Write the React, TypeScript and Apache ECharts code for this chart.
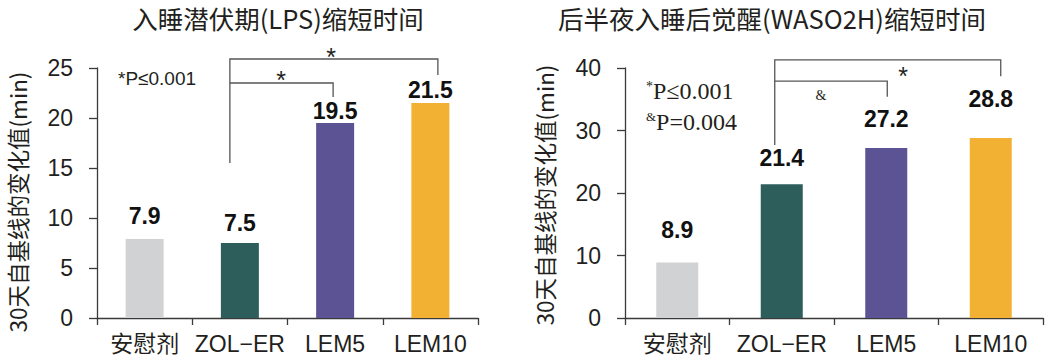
import React, { useEffect, useRef } from "react";
import * as echarts from "echarts";

const categories = ["安慰剂", "ZOL−ER", "LEM5", "LEM10"];
const lpsValues = [7.9, 7.5, 19.5, 21.5];
const wasoValues = [8.9, 21.4, 27.2, 28.8];
const lpsAxis = { min: 0, max: 25, interval: 5 };
const wasoAxis = { min: 0, max: 40, interval: 10 };
const titles = ["入睡潜伏期(LPS)缩短时间", "后半夜入睡后觉醒(WASO2H)缩短时间"];
const yName = "30天自基线的变化值(min)";

const barColors = ["#d1d2d4", "#2d5e5c", "#5b5394", "#f3b134"];

export default function App() {
  const ref = useRef<HTMLDivElement>(null);

  useEffect(() => {
    document.body.style.margin = "0";
    const chart = echarts.init(ref.current!, null, { renderer: "svg" });
    const font = '"Liberation Sans", "Noto Sans CJK SC", sans-serif';
    const cjk = '"Noto Sans CJK SC", "Liberation Sans", sans-serif';
    const serif = '"Liberation Serif", serif';
    const axisColor = "#3a3a3a";
    const ink = "#231f20";

    const yAxis = (idx: number, cfg: { min: number; max: number; interval: number }) => ({
      type: "value",
      gridIndex: idx,
      min: cfg.min,
      max: cfg.max,
      interval: cfg.interval,
      splitLine: { show: false },
      axisLine: { show: true, lineStyle: { color: axisColor, width: 1.3 } },
      axisTick: { show: true, length: 8, lineStyle: { color: axisColor, width: 1.3 } },
      axisLabel: { fontSize: 23, margin: 24, color: ink, fontFamily: font },
    });
    const xAxis = (idx: number) => ({
      type: "category",
      gridIndex: idx,
      data: categories,
      axisLine: { show: true, lineStyle: { color: axisColor, width: 1.3 } },
      axisTick: { show: true, length: 7, lineStyle: { color: axisColor, width: 1.3 } },
      axisLabel: { fontSize: 23, margin: 14, color: ink, fontFamily: font, interval: 0 },
    });
    const series = (idx: number, values: number[], gaps: number[], width: number) => ({
      type: "bar",
      xAxisIndex: idx,
      yAxisIndex: idx,
      barWidth: width,
      data: values.map((v, i) => ({
        value: v,
        itemStyle: { color: barColors[i] },
        label: { distance: gaps[i] },
      })),
      label: {
        show: true,
        position: "top",
        fontSize: 23,
        fontWeight: "bold",
        color: "#111",
        fontFamily: font,
      },
    });

    chart.setOption({
      animation: false,
      grid: [
        { left: 97, top: 68, width: 381, height: 250 },
        { left: 625, top: 68, width: 418, height: 250 },
      ],
      xAxis: [xAxis(0), xAxis(1)],
      yAxis: [yAxis(0, lpsAxis), yAxis(1, wasoAxis)],
      series: [
        series(0, lpsValues, [12, 9, 1, 2], 38),
        series(1, wasoValues, [21, 15, 18, 28], 42),
      ],
    });

    const px = (idx: number, cat: number, val: number, dx = 0): number[] => {
      const p = chart.convertToPixel({ xAxisIndex: idx, yAxisIndex: idx }, [cat, val]) as number[];
      return [p[0] + dx, p[1]];
    };
    const lineStyle = { stroke: "#555", lineWidth: 1.3, fill: null };
    const bracket = (pts: number[][]) => ({ type: "polyline", shape: { points: pts }, style: lineStyle, silent: true });

    // left chart brackets
    const lA = px(0, 1, 15.5, -10);
    const lTopL = px(0, 1, 25.9, -10);
    const lTopR = px(0, 3, 25.9, 7.5);
    const lTopRD = px(0, 3, 24.3, 7.5);
    const lMidL = px(0, 1, 23.5, -10);
    const lMidR = px(0, 2, 23.5, -2);
    const lMidRD = px(0, 2, 22.1, -2);

    // right chart brackets
    const rA = px(1, 1, 27.7, -7);
    const rTopL = px(1, 1, 41.3, -7);
    const rTopR = px(1, 3, 41.3, 10);
    const rTopRD = px(1, 3, 38.7, 10);
    const rMidL = px(1, 1, 37.9, -7);
    const rMidR = px(1, 2, 37.9, 1);
    const rMidRD = px(1, 2, 35.4, 1);

    const star = (x: number, y: number, size = 25) => ({
      type: "text",
      x,
      y,
      style: { text: "*", fontSize: size, fontFamily: font, fill: ink, align: "center", verticalAlign: "middle" },
      silent: true,
    });

    chart.setOption({
      graphic: [
        {
          type: "text",
          x: 278,
          y: 17,
          style: { text: titles[0], fontSize: 25.5, lineHeight: 26, fontFamily: cjk, fill: ink, align: "center", verticalAlign: "middle" },
        },
        {
          type: "text",
          x: 772,
          y: 17,
          style: { text: titles[1], fontSize: 25.5, lineHeight: 26, fontFamily: cjk, fill: ink, align: "center", verticalAlign: "middle" },
        },
        {
          type: "text",
          x: 17,
          y: 202,
          rotation: Math.PI / 2,
          style: { text: yName, fontSize: 22.5, lineHeight: 23, fontFamily: cjk, fill: ink, align: "center", verticalAlign: "middle" },
        },
        {
          type: "text",
          x: 544,
          y: 195,
          rotation: Math.PI / 2,
          style: { text: yName, fontSize: 22.5, lineHeight: 23, fontFamily: cjk, fill: ink, align: "center", verticalAlign: "middle" },
        },
        bracket([lA, lTopL, lTopR, lTopRD]),
        bracket([lMidL, lMidR, lMidRD]),
        bracket([rA, rTopL, rTopR, rTopRD]),
        bracket([rMidL, rMidR, rMidRD]),
        star(281, 80),
        star(331, 57),
        star(903, 76),
        {
          type: "text",
          x: 821,
          y: 95,
          style: { text: "&", fontSize: 14, fontFamily: serif, fill: ink, align: "center", verticalAlign: "middle" },
        },
        {
          type: "text",
          x: 118,
          y: 78,
          style: { text: "*P≤0.001", fontSize: 19, fontFamily: font, fill: ink, align: "left", verticalAlign: "middle" },
        },
        {
          type: "text",
          x: 646,
          y: 91,
          style: {
            text: "{s|*}{n|P≤0.001}",
            align: "left",
            verticalAlign: "middle",
            rich: {
              s: { fontSize: 14, fontFamily: serif, fill: ink, verticalAlign: "top", padding: [0, 0, 10, 0] },
              n: { fontSize: 24, fontFamily: serif, fill: ink },
            },
          },
        },
        {
          type: "text",
          x: 646,
          y: 122,
          style: {
            text: "{s|&}{n|P=0.004}",
            align: "left",
            verticalAlign: "middle",
            rich: {
              s: { fontSize: 13, fontFamily: serif, fill: ink, verticalAlign: "top", padding: [0, 0, 10, 0] },
              n: { fontSize: 24, fontFamily: serif, fill: ink },
            },
          },
        },
      ],
    });

    return () => chart.dispose();
  }, []);

  return <div ref={ref} style={{ width: 1058, height: 360 }} />;
}
